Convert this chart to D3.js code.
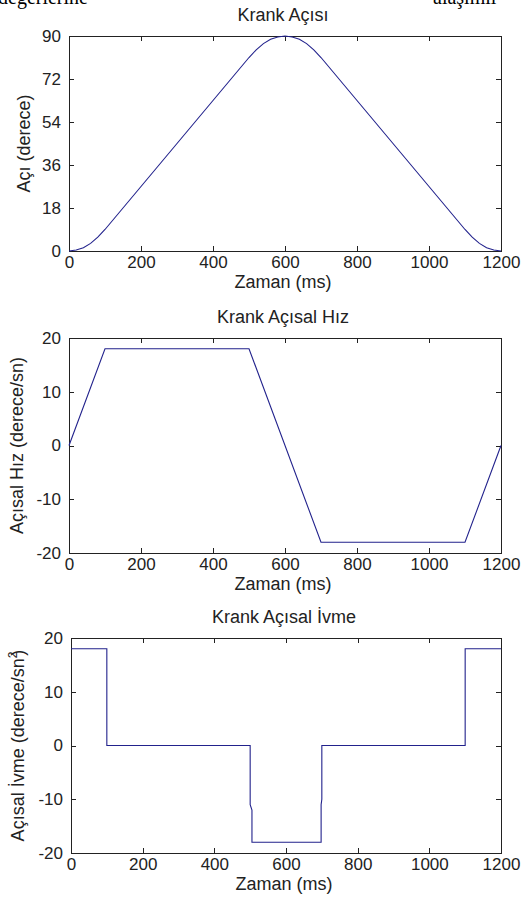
<!DOCTYPE html>
<html>
<head>
<meta charset="utf-8">
<script src="https://cdn.jsdelivr.net/npm/d3@7"></script>
<style>
  body { margin: 0; background: #fff; }
  svg text { font-family: "Liberation Sans", Arial, sans-serif; fill: #222; }
</style>
</head>
<body>
<div id="app"></div>
<script>
// tick labels
const timeTicks = [0, 200, 400, 600, 800, 1000, 1200];
const angleTicks = [0, 18, 36, 54, 72, 90];
const rateTicks = [-20, -10, 0, 10, 20];

// [time (ms), value]
const angleData = [
    [0, 0], [20, 0.4], [40, 1.4], [60, 3.2], [80, 5.8], [100, 9],
    [200, 27], [300, 45], [400, 63], [500, 81],
    [520, 84.2], [540, 86.8], [560, 88.6], [580, 89.6], [600, 90],
    [620, 89.6], [640, 88.6], [660, 86.8], [680, 84.2], [700, 81],
    [800, 63], [900, 45], [1000, 27], [1100, 9],
    [1120, 5.8], [1140, 3.2], [1160, 1.4], [1180, 0.4], [1200, 0]
];
const velocityData = [[0, 0], [100, 18], [500, 18], [700, -18], [1100, -18], [1200, 0]];
const accelData = [
    [0, 18], [100, 18], [100, 0], [500, 0], [500, -11], [505, -12], [505, -18],
    [698, -18], [698, -11], [700, -10], [700, 0], [1100, 0], [1100, 18], [1200, 18]
];

const width = 523, height = 911;
const svg = d3.select('#app').append('svg').attr('width', width).attr('height', height);

// cut-off body text from the page above the figure
svg.append('text').attr('x', -2).attr('y', 4)
    .style('font-family', '"Liberation Serif", "Times New Roman", serif').style('font-size', '20px')
    .style('fill', '#000').text('değerlerine');
svg.append('text').attr('x', 433).attr('y', 4)
    .style('font-family', '"Liberation Serif", "Times New Roman", serif').style('font-size', '20px')
    .style('fill', '#000').text('alaşımlı');

const panels = [
    { title: 'Krank Açısı', ylabel: ['Açı (derece)'], data: angleData, domain: [0, 90], ticks: angleTicks,
      top: 36, left: 69, labelX: 30 },
    { title: 'Krank Açısal Hız', ylabel: ['Açısal Hız (derece/sn)'], data: velocityData, domain: [-20, 20], ticks: rateTicks,
      top: 338, left: 69, labelX: 23 },
    { title: 'Krank Açısal İvme', ylabel: ['Açısal İvme (derece/sn', '2', ')'], data: accelData, domain: [-20, 20], ticks: rateTicks,
      top: 638, left: 71, labelX: 24 }
];
const right = 501, plotH = 215;

panels.forEach(p => {
    const x = d3.scaleLinear().domain([0, 1200]).range([p.left, right]);
    const y = d3.scaleLinear().domain(p.domain).range([p.top + plotH, p.top]);
    const g = svg.append('g');

    // box
    g.append('rect').attr('x', p.left).attr('y', p.top)
        .attr('width', right - p.left).attr('height', plotH)
        .attr('fill', 'none').attr('stroke', '#222').attr('stroke-width', 1)
        .attr('shape-rendering', 'crispEdges');

    const plain = d => String(d);
    const axB = d3.axisBottom(x).tickValues(timeTicks).tickFormat(plain)
        .tickSizeInner(-5).tickSizeOuter(0).tickPadding(5);
    const axT = d3.axisTop(x).tickValues(timeTicks).tickSizeInner(-5).tickSizeOuter(0).tickFormat('');
    const axL = d3.axisLeft(y).tickValues(p.ticks).tickFormat(plain)
        .tickSizeInner(-5).tickSizeOuter(0).tickPadding(8);
    const axR = d3.axisRight(y).tickValues(p.ticks).tickSizeInner(-5).tickSizeOuter(0).tickFormat('');

    [[axB, `translate(0,${p.top + plotH})`], [axT, `translate(0,${p.top})`],
     [axL, `translate(${p.left},0)`], [axR, `translate(${right},0)`]].forEach(([ax, tr]) => {
        const a = g.append('g').attr('transform', tr).call(ax);
        a.select('.domain').remove();
        a.selectAll('line').attr('stroke', '#222').attr('shape-rendering', 'crispEdges');
        a.selectAll('text').style('font-size', '17px').style('font-family', null).attr('fill', '#222');
    });

    // line
    g.append('path').datum(p.data)
        .attr('fill', 'none').attr('stroke', '#22228c').attr('stroke-width', 1.1)
        .attr('d', d3.line().x(d => x(d[0])).y(d => y(d[1])));

    // title
    g.append('text').attr('x', (p.left + right) / 2 - 2).attr('y', p.top - 15)
        .attr('text-anchor', 'middle').style('font-size', '18px').text(p.title);

    // x label
    g.append('text').attr('x', (p.left + right) / 2 - 2).attr('y', p.top + plotH + 37)
        .attr('text-anchor', 'middle').style('font-size', '18px').text('Zaman (ms)');

    // y label
    const yl = g.append('text')
        .attr('transform', `translate(${p.labelX},${p.top + plotH / 2}) rotate(-90)`)
        .attr('text-anchor', 'middle').style('font-size', '18px');
    yl.append('tspan').text(p.ylabel[0]);
    if (p.ylabel.length > 1) {
        yl.append('tspan').attr('dy', -7).style('font-size', '12px').text(p.ylabel[1]);
        yl.append('tspan').attr('dy', 7).attr('dx', -4).text(p.ylabel[2]);
    }
});
</script>
</body>
</html>
